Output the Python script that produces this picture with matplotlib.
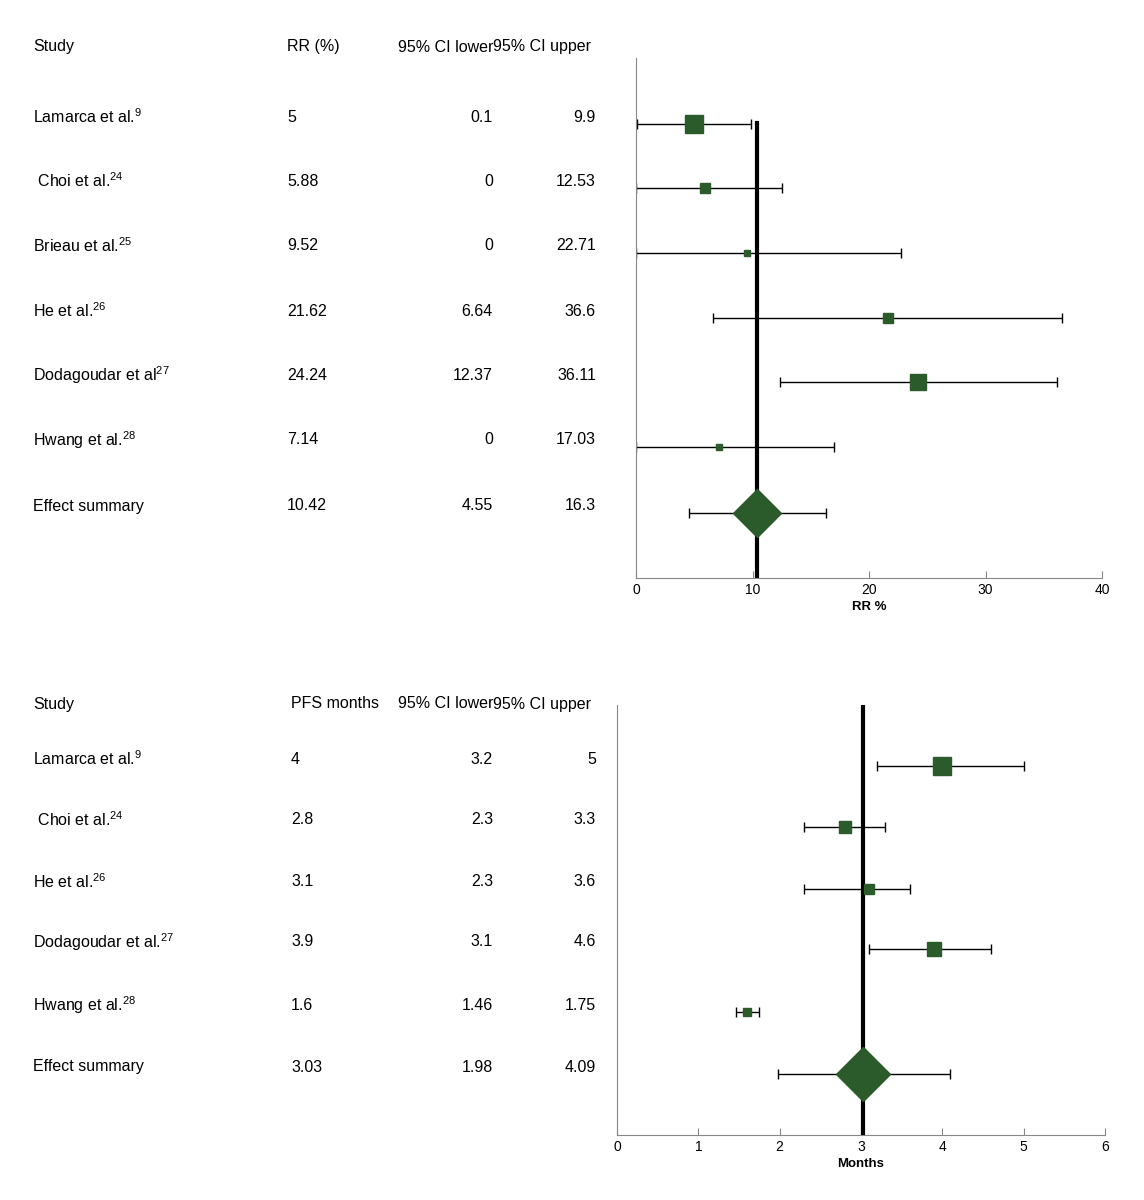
import matplotlib
matplotlib.use("Agg")
import matplotlib.pyplot as plt

plt.rcParams['font.family'] = ['Liberation Sans', 'DejaVu Sans']
plt.rcParams['mathtext.fontset'] = 'custom'
plt.rcParams['mathtext.rm'] = 'Liberation Sans'

GREEN = '#2b5a2b'

rr_studies = ["Lamarca et al.$^{9}$", " Choi et al.$^{24}$", "Brieau et al.$^{25}$", "He et al.$^{26}$",
              "Dodagoudar et al$^{27}$", "Hwang et al.$^{28}$", "Effect summary"]
rr_val = [5, 5.88, 9.52, 21.62, 24.24, 7.14, 10.42]
rr_lo = [0.1, 0, 0, 6.64, 12.37, 0, 4.55]
rr_hi = [9.9, 12.53, 22.71, 36.6, 36.11, 17.03, 16.3]
rr_lo_txt = ["0.1", "0", "0", "6.64", "12.37", "0", "4.55"]
rr_hi_txt = ["9.9", "12.53", "22.71", "36.6", "36.11", "17.03", "16.3"]
rr_val_txt = ["5", "5.88", "9.52", "21.62", "24.24", "7.14", "10.42"]
rr_msize = [18, 10, 5, 9, 15, 6, 34]
rr_ticks = [0, 10, 20, 30, 40]

pfs_studies = ["Lamarca et al.$^{9}$", " Choi et al.$^{24}$", "He et al.$^{26}$",
               "Dodagoudar et al.$^{27}$", "Hwang et al.$^{28}$", "Effect summary"]
pfs_val = [4, 2.8, 3.1, 3.9, 1.6, 3.03]
pfs_lo = [3.2, 2.3, 2.3, 3.1, 1.46, 1.98]
pfs_hi = [5, 3.3, 3.6, 4.6, 1.75, 4.09]
pfs_val_txt = ["4", "2.8", "3.1", "3.9", "1.6", "3.03"]
pfs_lo_txt = ["3.2", "2.3", "2.3", "3.1", "1.46", "1.98"]
pfs_hi_txt = ["5", "3.3", "3.6", "4.6", "1.75", "4.09"]
pfs_msize = [18, 11, 9, 14, 8, 38]
pfs_ticks = [0, 1, 2, 3, 4, 5, 6]

W, H = 1144, 1200
fig = plt.figure(figsize=(W/100, H/100), dpi=100)

def fx(x): return x / W
def fy(y): return 1 - y / H

def panel(box, rows_px, header_y, head2, studies, vals, los, his, vtxt, lotxt, hitxt, msize, ticks, xlabel, xmax, vline_top):
    x0, y0, x1, y1 = box
    ax = fig.add_axes([fx(x0), fy(y1), fx(x1 - x0), (y1 - y0) / H])
    ax.set_xlim(0, xmax)
    ax.set_ylim(y1, y0)
    n = len(studies)
    for i in range(n):
        yy = rows_px[i]
        ax.errorbar([vals[i]], [yy], xerr=[[vals[i] - los[i]], [his[i] - vals[i]]], fmt='none',
                    ecolor='black', elinewidth=1, capsize=3.5, capthick=1, zorder=2)
        marker = 'D' if i == n - 1 else 's'
        ms = msize[i] * 0.72 if i == n - 1 else msize[i] * 0.75
        ax.plot([vals[i]], [yy], marker=marker, ms=ms, color=GREEN, mec=GREEN, zorder=4, ls='none')
    ax.plot([vals[-1], vals[-1]], [vline_top, y1], color='black', lw=3, zorder=3)
    ax.set_xticks(ticks)
    ax.set_yticks([])
    for s in ['top', 'right']:
        ax.spines[s].set_visible(False)
    ax.spines['left'].set_color('#888888')
    ax.spines['bottom'].set_color('#888888')
    ax.tick_params(axis='x', colors='#888888', labelcolor='black', labelsize=10, direction='in', length=5)
    ax.set_xlabel(xlabel, fontsize=9.5, fontweight='bold', labelpad=3)
    fs = 11.5
    fig.text(fx(33), fy(header_y), "Study", fontsize=fs, va='center')
    fig.text(fx(head2[1]), fy(header_y), head2[0], fontsize=fs, va='center')
    fig.text(fx(493), fy(header_y), "95% CI lower", fontsize=fs, va='center', ha='right')
    fig.text(fx(591), fy(header_y), "95% CI upper", fontsize=fs, va='center', ha='right')
    for i in range(n):
        yy = rows_px[i] - 7
        fig.text(fx(33), fy(yy), studies[i], fontsize=fs, va='center')
        fig.text(fx(head2[1]), fy(yy), vtxt[i], fontsize=fs, va='center')
        fig.text(fx(493), fy(yy), lotxt[i], fontsize=fs, va='center', ha='right')
        fig.text(fx(596), fy(yy), hitxt[i], fontsize=fs, va='center', ha='right')

panel((636, 58, 1102, 578), [124, 188, 253, 318, 382, 447, 513], 47, ("RR (%)", 287),
      rr_studies, rr_val, rr_lo, rr_hi, rr_val_txt, rr_lo_txt, rr_hi_txt, rr_msize, rr_ticks, "RR %", 40, 123)
panel((617, 705, 1105, 1135), [766, 827, 889, 949, 1012, 1074], 704, ("PFS months", 291),
      pfs_studies, pfs_val, pfs_lo, pfs_hi, pfs_val_txt, pfs_lo_txt, pfs_hi_txt, pfs_msize, pfs_ticks, "Months", 6, 705)

fig.savefig("out.png", dpi=100, facecolor='white')
